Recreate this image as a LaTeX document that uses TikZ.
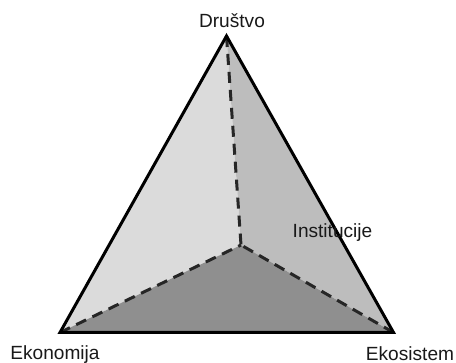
\documentclass[tikz,border=0pt]{standalone}
\usepackage{fontspec}
\setmainfont{Liberation Sans}
\tikzset{
  lbl/.style={inner sep=0pt,font=\fontsize{19.1}{21}\selectfont,text=black!90},
  edge/.style={draw=black,line width=3pt,line join=miter},
  spoke/.style={draw=black!85,line width=3pt,dash pattern=on 11pt off 7pt},
}
\definecolor{faceL}{gray}{0.86}
\definecolor{faceR}{gray}{0.74}
\definecolor{faceB}{gray}{0.56}
\begin{document}
\begin{tikzpicture}[x=1pt,y=-1pt]
\useasboundingbox (0,0) rectangle (456,363);
\coordinate (A) at (226.5,36);
\coordinate (L) at (60,332.5);
\coordinate (R) at (393.5,332.5);
\coordinate (C) at (241,245);
\fill[faceL] (A) -- (C) -- (L) -- cycle;
\fill[faceR] (A) -- (C) -- (R) -- cycle;
\fill[faceB] (L) -- (C) -- (R) -- cycle;
\draw[spoke] (A) -- (C);
\draw[spoke] (L) -- (C);
\draw[spoke] (R) -- (C);
\draw[edge] (A) -- (L) -- (R) -- cycle;
\node[lbl] (drustvo) at (232,20.5) {Društvo};
\node[lbl] (inst) at (332.5,232.5) {Institucije};
\node[lbl] (ekon) at (55,354.5) {Ekonomija};
\node[lbl] (ekos) at (410,353.5) {Ekosistem};
\end{tikzpicture}
\end{document}
